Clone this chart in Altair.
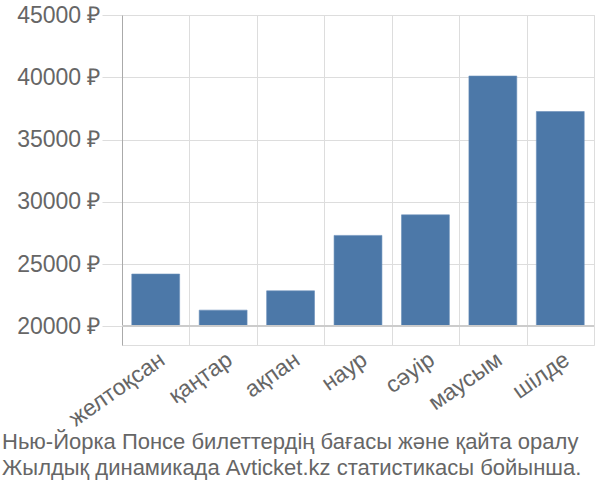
import altair as alt
import pandas as pd

months = ["желтоқсан", "қаңтар", "ақпан", "наур", "сәуір", "маусым", "шілде"]
prices = [24200, 21300, 22850, 27300, 28950, 40100, 37250]
y_ticks = [20000, 25000, 30000, 35000, 40000, 45000]
title_lines = [
    "Нью-Йорка Понсе билеттердің бағасы және қайта оралу",
    "Жылдық динамикада Avticket.kz статистикасы бойынша.",
]
baseline_value = 20000

df = pd.DataFrame({"month": months, "price": prices, "base": [baseline_value] * len(months)})

FONT = "Liberation Sans"

x = alt.X(
    "month:N",
    sort=months,
    title=None,
    scale=alt.Scale(paddingInner=0, paddingOuter=0),
    axis=alt.Axis(
        tickBand="extent",
        grid=True,
        gridColor="#dddddd",
        domain=False,
        ticks=False,
        labelAngle=-35,
        labelFontSize=23,
        labelColor="#666666",
        labelFont=FONT,
        labelPadding=3,
    ),
)

y = alt.Y(
    "price:Q",
    title=None,
    scale=alt.Scale(domain=[18500, 45000], nice=False, zero=False),
    axis=alt.Axis(
        values=y_ticks,
        labelExpr="datum.value + ' ₽'",
        grid=True,
        gridColor="#dddddd",
        domain=True,
        domainColor="#aaaaaa",
        tickColor="#dddddd",
        tickSize=20,
        labelPadding=2,
        labelFontSize=23,
        labelColor="#666666",
        labelFont=FONT,
    ),
)

bars = alt.Chart(df).mark_bar(
    width=alt.RelativeBandSize(0.71), color="#4c78a8", stroke="#6a8fbb", strokeWidth=0.6
).encode(x=x, y=y, y2="base:Q")

rule = alt.Chart(df).mark_rule(color="#cccccc", strokeWidth=1.5).encode(
    y=alt.datum(baseline_value)
)

chart = (
    alt.layer(bars, rule)
    .properties(
        width=472,
        height=330,
        autosize=alt.AutoSizeParams(type="none"),
        padding={"left": 122, "top": 15, "right": 6, "bottom": 155},
        title=alt.TitleParams(
            text=title_lines,
            orient="bottom",
            anchor="start",
            frame="group",
            dx=-120,
            fontSize=22,
            fontWeight="normal",
            font=FONT,
            color="#666666",
            lineHeight=26,
            offset=2,
        ),
    )
    .configure_view(stroke=None)
    .configure(background="white")
)

chart.save("out.html", embed_options={"renderer": "svg", "actions": False})
